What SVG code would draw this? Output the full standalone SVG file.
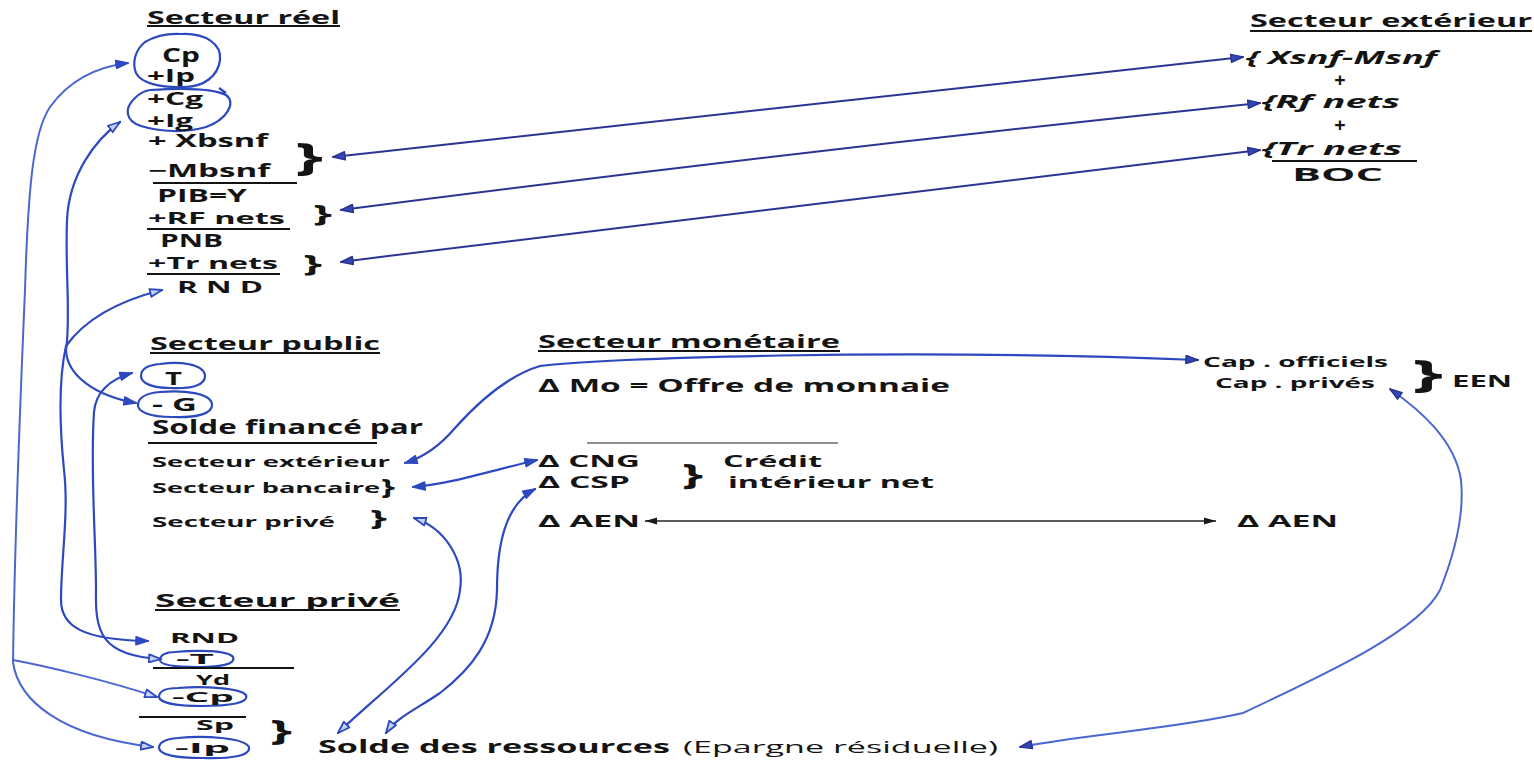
<svg xmlns="http://www.w3.org/2000/svg" width="1534" height="761" viewBox="0 0 1534 761">
  <style>
    .t { font-family: "Open Sans", "DejaVu Sans", sans-serif; font-weight: 700; fill: #141414; }
    .it { font-style: italic; }
    .rg { font-weight: 400; }
    .ul { stroke: #141414; stroke-width: 2; fill: none; }
    .pen { fill: none; stroke: #2d49bf; stroke-width: 2.2; stroke-linecap: round; stroke-linejoin: round; }
    .pen-l { fill: none; stroke: #4a68d0; stroke-width: 2; stroke-linecap: round; }
    .navy { fill: none; stroke: #2a3592; stroke-width: 2; stroke-linecap: round; }
    .ring { fill: none; stroke: #2d49bf; stroke-width: 2.2; }
    .thin { stroke: #222; stroke-width: 1.3; fill: none; }
  </style>
  <defs>
    <marker id="hb" viewBox="0 0 14 10" refX="13" refY="5" markerWidth="14" markerHeight="10" orient="auto-start-reverse" markerUnits="userSpaceOnUse">
      <path d="M1,1 L13,5 L1,9 Z" fill="#c6d0f3" stroke="#2d49bf" stroke-width="1.8" stroke-linejoin="round"/>
    </marker>
    <marker id="hf" viewBox="0 0 14 10" refX="13" refY="5" markerWidth="14" markerHeight="10" orient="auto-start-reverse" markerUnits="userSpaceOnUse">
      <path d="M1,1 L13,5 L1,9 Z" fill="#2d49bf" stroke="#2d49bf" stroke-width="1.5" stroke-linejoin="round"/>
    </marker>
    <marker id="hn" viewBox="0 0 14 10" refX="13" refY="5" markerWidth="14" markerHeight="10" orient="auto-start-reverse" markerUnits="userSpaceOnUse">
      <path d="M1,1 L13,5 L1,9 Z" fill="#3346b5" stroke="#2a3592" stroke-width="1.5" stroke-linejoin="round"/>
    </marker>
    <marker id="hk" viewBox="0 0 12 8" refX="12" refY="4" markerWidth="12" markerHeight="8" orient="auto-start-reverse" markerUnits="userSpaceOnUse">
      <path d="M0,0.5 L12,4 L0,7.5 Z" fill="#1a1a1a"/>
    </marker>
  </defs>

  <rect width="1534" height="761" fill="#ffffff"/>

  <!-- Secteur réel -->
  <g id="secteur-reel">
    <text class="t" x="147" y="24" font-size="17" textLength="193" lengthAdjust="spacingAndGlyphs">Secteur réel</text>
    <line class="ul" x1="147" y1="26" x2="340" y2="26" stroke-width="1.8"/>
    <path class="ring" d="M182,34 C205,33 222,44 220,60 C218,76 204,87 184,87 C160,88 141,83 136,73 C132,63 135,50 145,42 C155,36 168,33 182,34 Z"/>
    <text class="t" x="162" y="62" font-size="19" textLength="38" lengthAdjust="spacingAndGlyphs">Cp</text>
    <text class="t" x="147" y="82" font-size="17" textLength="48" lengthAdjust="spacingAndGlyphs">+Ip</text>
    <path class="ring" d="M150,90 C180,88 212,88 226,95 C237,103 226,120 206,127 C186,133 160,132 141,126 C125,121 124,108 135,98 C139,94 144,91 150,90 Z M219,88 L226,93"/>
    <text class="t" x="147" y="105" font-size="17" textLength="56" lengthAdjust="spacingAndGlyphs">+Cg</text>
    <text class="t" x="147" y="127" font-size="17" textLength="46" lengthAdjust="spacingAndGlyphs">+Ig</text>
    <text class="t" x="148" y="147" font-size="17" textLength="120" lengthAdjust="spacingAndGlyphs">+ Xbsnf</text>
    <text class="t" x="148" y="177" font-size="18" textLength="122" lengthAdjust="spacingAndGlyphs">−Mbsnf</text>
    <line class="ul" x1="153" y1="183" x2="297" y2="183"/>
    <text class="t" x="295" y="170" font-size="37" textLength="28" lengthAdjust="spacingAndGlyphs">}</text>
    <text class="t" x="157" y="202" font-size="17" textLength="90" lengthAdjust="spacingAndGlyphs">PIB=Y</text>
    <text class="t" x="148" y="224" font-size="16" textLength="137" lengthAdjust="spacingAndGlyphs">+RF nets</text>
    <line class="ul" x1="147" y1="229" x2="290" y2="229"/>
    <text class="t" x="313" y="222" font-size="24" textLength="19" lengthAdjust="spacingAndGlyphs">}</text>
    <text class="t" x="160" y="247" font-size="17" textLength="63" lengthAdjust="spacingAndGlyphs">PNB</text>
    <text class="t" x="148" y="269" font-size="16" textLength="130" lengthAdjust="spacingAndGlyphs">+Tr nets</text>
    <line class="ul" x1="147" y1="274" x2="280" y2="274"/>
    <text class="t" x="303" y="272" font-size="24" textLength="19" lengthAdjust="spacingAndGlyphs">}</text>
    <text class="t" x="177" y="293" font-size="16" textLength="86" lengthAdjust="spacingAndGlyphs">R N D</text>
  </g>

  <!-- Secteur extérieur -->
  <g id="secteur-exterieur">
    <text class="t" x="1250" y="27" font-size="17" textLength="282" lengthAdjust="spacingAndGlyphs">Secteur extérieur</text>
    <line class="ul" x1="1250" y1="31" x2="1532" y2="31" stroke-width="1.8"/>
    <text class="t it" x="1246" y="64" font-size="17" textLength="191" lengthAdjust="spacingAndGlyphs">{ Xsnf-Msnf</text>
    <text class="t it" x="1334" y="87" font-size="20">+</text>
    <text class="t it" x="1262" y="108" font-size="17" textLength="138" lengthAdjust="spacingAndGlyphs">{Rf nets</text>
    <text class="t it" x="1334" y="132" font-size="20">+</text>
    <text class="t it" x="1262" y="155" font-size="17" textLength="140" lengthAdjust="spacingAndGlyphs">{Tr nets</text>
    <line class="ul" x1="1272" y1="161" x2="1417" y2="161"/>
    <text class="t" x="1292" y="181" font-size="18" textLength="91" lengthAdjust="spacingAndGlyphs">BOC</text>
  </g>

  <!-- Secteur public -->
  <g id="secteur-public">
    <text class="t" x="150" y="350" font-size="17" textLength="230" lengthAdjust="spacingAndGlyphs">Secteur public</text>
    <line class="ul" x1="150" y1="353" x2="380" y2="353" stroke-width="1.8"/>
    <path class="ring" d="M160,364 C180,361 203,364 205,375 C206,386 190,389 170,388 C152,388 141,383 141,376 C141,369 148,365 160,364 Z"/>
    <text class="t" x="165" y="385" font-size="17" textLength="17" lengthAdjust="spacingAndGlyphs">T</text>
    <path class="ring" d="M160,392 C185,390 210,393 212,404 C213,414 196,418 172,417 C150,417 137,412 138,404 C139,397 148,393 160,392 Z"/>
    <text class="t" x="152" y="411" font-size="18" textLength="45" lengthAdjust="spacingAndGlyphs">- G</text>
    <text class="t" x="152" y="434" font-size="19" textLength="271" lengthAdjust="spacingAndGlyphs">Solde financé par</text>
    <line class="ul" x1="148" y1="443" x2="377" y2="443"/>
    <text class="t" x="152" y="467" font-size="15" textLength="238" lengthAdjust="spacingAndGlyphs">Secteur extérieur</text>
    <text class="t" x="152" y="493" font-size="15" textLength="228" lengthAdjust="spacingAndGlyphs">Secteur bancaire</text>
    <text class="t" x="381" y="494" font-size="21" textLength="14" lengthAdjust="spacingAndGlyphs">}</text>
    <text class="t" x="152" y="527" font-size="15" textLength="183" lengthAdjust="spacingAndGlyphs">Secteur privé</text>
    <text class="t" x="370" y="525" font-size="21" textLength="17" lengthAdjust="spacingAndGlyphs">}</text>
  </g>

  <!-- Secteur monétaire -->
  <g id="secteur-monetaire">
    <text class="t" x="538" y="348" font-size="17" textLength="302" lengthAdjust="spacingAndGlyphs">Secteur monétaire</text>
    <line class="ul" x1="538" y1="351" x2="840" y2="351" stroke-width="1.8"/>
    <text class="t" x="538" y="392" font-size="17" textLength="412" lengthAdjust="spacingAndGlyphs">Δ Mo = Offre de monnaie</text>
    <line x1="587" y1="443" x2="838" y2="443" stroke="#6a6a6a" stroke-width="1.3"/>
    <text class="t" x="538" y="467" font-size="16" textLength="102" lengthAdjust="spacingAndGlyphs">Δ CNG</text>
    <text class="t" x="538" y="488" font-size="16" textLength="92" lengthAdjust="spacingAndGlyphs">Δ CSP</text>
    <text class="t" x="682" y="485" font-size="29" textLength="21" lengthAdjust="spacingAndGlyphs">}</text>
    <text class="t" x="723" y="467" font-size="16" textLength="99" lengthAdjust="spacingAndGlyphs">Crédit</text>
    <text class="t" x="728" y="488" font-size="16" textLength="206" lengthAdjust="spacingAndGlyphs">intérieur net</text>
    <text class="t" x="538" y="527" font-size="16" textLength="102" lengthAdjust="spacingAndGlyphs">Δ AEN</text>
    <text class="t" x="1237" y="527" font-size="16" textLength="101" lengthAdjust="spacingAndGlyphs">Δ AEN</text>
    <text class="t" x="1203" y="367" font-size="15" textLength="185" lengthAdjust="spacingAndGlyphs">Cap . officiels</text>
    <text class="t" x="1215" y="388" font-size="15" textLength="160" lengthAdjust="spacingAndGlyphs">Cap . privés</text>
    <text class="t" x="1412" y="387" font-size="37" textLength="31" lengthAdjust="spacingAndGlyphs">}</text>
    <text class="t" x="1452" y="387" font-size="16" textLength="60" lengthAdjust="spacingAndGlyphs">EEN</text>
  </g>

  <!-- Secteur privé -->
  <g id="secteur-prive">
    <text class="t" x="155" y="607" font-size="17" textLength="245" lengthAdjust="spacingAndGlyphs">Secteur privé</text>
    <line class="ul" x1="155" y1="610" x2="400" y2="610" stroke-width="1.8"/>
    <text class="t" x="170" y="643" font-size="15" textLength="69" lengthAdjust="spacingAndGlyphs">RND</text>
    <path class="ring" d="M175,652 C195,650 228,650 233,657 C236,664 222,667 198,667 C176,667 160,665 160,660 C160,655 166,652 175,652 Z"/>
    <text class="t" x="176" y="664" font-size="15" textLength="38" lengthAdjust="spacingAndGlyphs">-T</text>
    <line class="ul" x1="153" y1="668" x2="294" y2="668"/>
    <text class="t" x="196" y="685" font-size="15" textLength="34" lengthAdjust="spacingAndGlyphs">Yd</text>
    <path class="ring" d="M178,688 C205,686 240,688 246,695 C249,703 230,706 202,706 C178,706 160,703 159,697 C159,691 166,688 178,688 Z"/>
    <text class="t" x="172" y="702" font-size="15" textLength="62" lengthAdjust="spacingAndGlyphs">-Cp</text>
    <line class="ul" x1="139" y1="717" x2="246" y2="717"/>
    <text class="t" x="196" y="730" font-size="15" textLength="38" lengthAdjust="spacingAndGlyphs">Sp</text>
    <text class="t" x="270" y="741" font-size="28" textLength="22" lengthAdjust="spacingAndGlyphs">}</text>
    <path class="ring" d="M178,738 C205,735 244,738 249,747 C251,756 230,759 203,758 C178,758 160,755 159,748 C159,742 166,739 178,738 Z"/>
    <text class="t" x="175" y="753" font-size="15" textLength="55" lengthAdjust="spacingAndGlyphs">-Ip</text>
    <text class="t" x="318" y="753" font-size="17" textLength="352" lengthAdjust="spacingAndGlyphs">Solde des ressources</text>
    <text class="t rg" x="683" y="753" font-size="17" textLength="315" lengthAdjust="spacingAndGlyphs">(Epargne résiduelle)</text>
  </g>

  <!-- Connectors -->
  <g id="connectors">
    <!-- balance of payments links -->
    <path class="navy" d="M333,157 C640,123 950,90 1243,57" marker-start="url(#hn)" marker-end="url(#hn)"/>
    <path class="navy" d="M341,210 C650,170 960,134 1260,103" marker-start="url(#hn)" marker-end="url(#hn)"/>
    <path class="navy" d="M341,262 C650,222 960,186 1260,150" marker-start="url(#hn)" marker-end="url(#hn)"/>

    <!-- Cp+Ip to private consumption and investment -->
    <path class="pen-l" d="M13,662 C15,520 22,360 25,290 C28,190 33,132 50,107 C68,82 95,67 128,63" marker-end="url(#hf)"/>
    <path class="pen-l" d="M13,660 C45,666 105,680 157,697" marker-end="url(#hb)"/>
    <path class="pen-l" d="M13,662 C18,700 60,736 153,747" marker-end="url(#hb)"/>

    <!-- Cg+Ig to public spending -->
    <path class="pen" d="M120,122 C95,140 69,175 67,220 C65,270 71,320 66,350 C67,376 96,396 136,403" marker-start="url(#hb)" marker-end="url(#hf)"/>

    <!-- RND real to RND private -->
    <path class="pen" d="M162,290 C122,300 86,318 66,346 C58,382 60,430 64,470 C69,512 61,560 61,600 C61,626 82,640 148,641" marker-start="url(#hb)" marker-end="url(#hf)"/>

    <!-- taxes -->
    <path class="pen" d="M132,373 C111,379 96,390 94,412 C90,470 96,540 96,590 C95,632 101,656 161,659" marker-start="url(#hf)" marker-end="url(#hb)"/>

    <!-- external financing to official capital -->
    <path class="pen" d="M405,463 C428,456 444,441 455,428 C480,400 510,375 540,366 C600,358 900,348 1198,360" marker-start="url(#hf)" marker-end="url(#hn)"/>

    <!-- bank financing to credit to government -->
    <path class="pen" d="M413,487 C450,484 490,471 537,460" marker-start="url(#hf)" marker-end="url(#hf)"/>

    <!-- private financing to residual savings -->
    <path class="pen" d="M414,518 C445,528 465,560 460,590 C455,640 382,690 338,733" marker-start="url(#hb)" marker-end="url(#hb)"/>

    <!-- credit to private sector to residual savings -->
    <path class="pen" d="M535,489 C505,505 497,545 497,590 C496,640 470,670 440,693 C415,710 396,718 386,733" marker-start="url(#hf)" marker-end="url(#hb)"/>

    <!-- private capital to residual savings -->
    <path class="pen-l" d="M1390,389 C1420,410 1455,440 1461,480 C1465,520 1452,560 1440,590 C1420,630 1330,672 1243,713 C1180,728 1080,735 1020,747" marker-start="url(#hn)" marker-end="url(#hn)"/>

    <!-- net foreign assets -->
    <line class="thin" x1="645" y1="521" x2="1216" y2="521" marker-start="url(#hk)" marker-end="url(#hk)"/>
  </g>
</svg>
